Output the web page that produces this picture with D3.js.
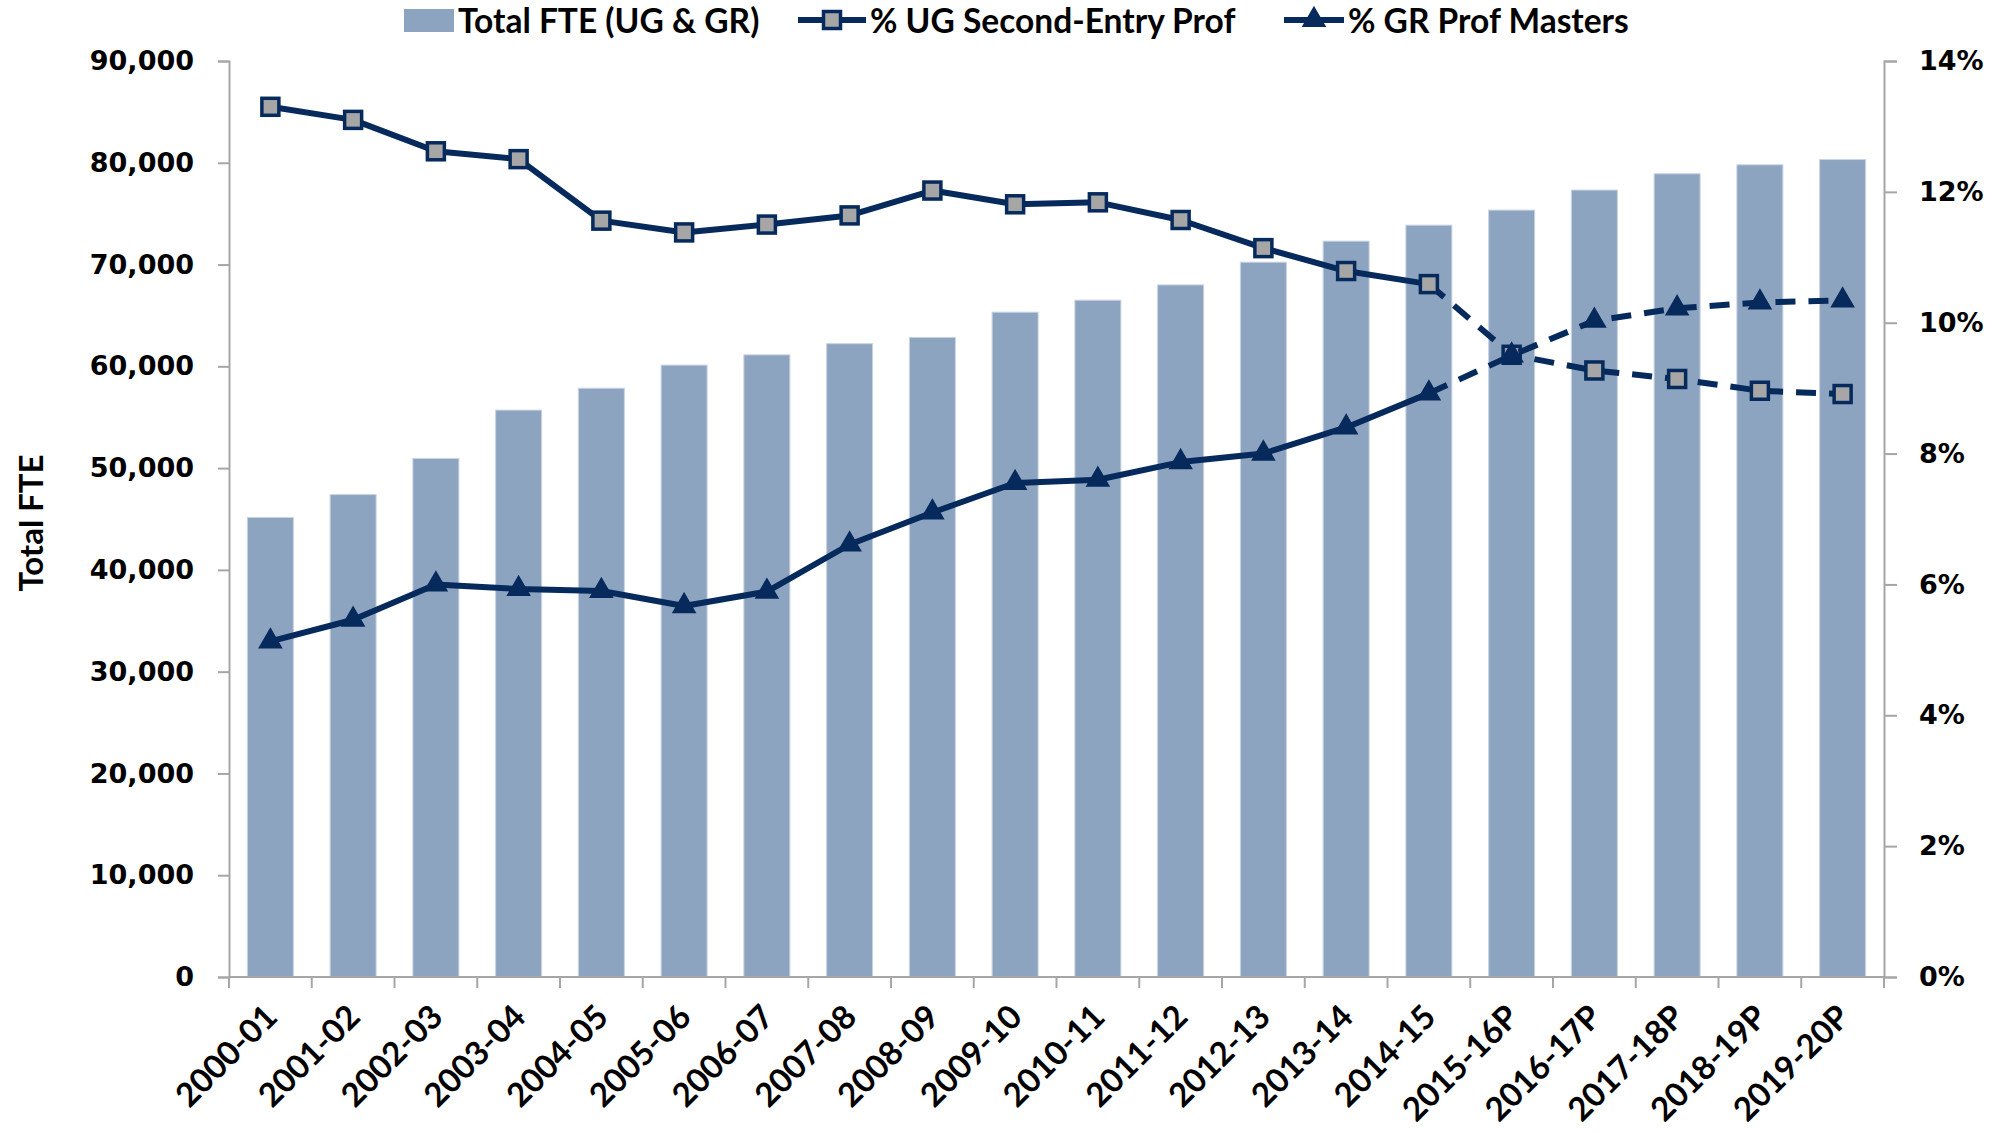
<!DOCTYPE html>
<html>
<head>
<meta charset="utf-8">
<script src="https://cdn.jsdelivr.net/npm/d3@7"></script>
<style>
  html, body { margin: 0; padding: 0; background: #fff; }
  svg { display: block; }
</style>
</head>
<body>
<div id="chart"></div>
<script>
// ---- data ----
const categories = ["2000-01","2001-02","2002-03","2003-04","2004-05","2005-06","2006-07","2007-08","2008-09","2009-10","2010-11","2011-12","2012-13","2013-14","2014-15","2015-16P","2016-17P","2017-18P","2018-19P","2019-20P"];
const totalFTE = [45150, 47400, 50950, 55700, 57850, 60120, 61130, 62230, 62840, 65320, 66500, 68000, 70230, 72300, 73870, 75350, 77320, 78920, 79800, 80320];
const ugSecondEntryPct = [13.30, 13.10, 12.62, 12.50, 11.56, 11.38, 11.50, 11.64, 12.02, 11.81, 11.84, 11.57, 11.14, 10.79, 10.59, 9.51, 9.27, 9.14, 8.96, 8.91];
const grProfMastersPct = [5.13, 5.46, 6.00, 5.93, 5.90, 5.67, 5.89, 6.61, 7.10, 7.55, 7.60, 7.87, 8.00, 8.40, 8.92, 9.50, 10.03, 10.22, 10.31, 10.34];
const leftTicks = [0, 10000, 20000, 30000, 40000, 50000, 60000, 70000, 80000, 90000];
const rightTicks = [0, 2, 4, 6, 8, 10, 12, 14];
const seriesNames = ["Total FTE (UG & GR)", "% UG Second-Entry Prof", "% GR Prof Masters"];
const yTitle = "Total FTE";
const firstProjectedIndex = 15; // "P" years are projections (dashed)

// ---- layout ----
const W = 1994, H = 1133;
const plot = { left: 229, right: 1884, top: 61, bottom: 977 };
const navy = "#072A5C";
const barFill = "#8DA4C1";
const axisGrey = "#A6A6A6";
const labelFont = "Lato, 'Open Sans', sans-serif";
const tickFont = "'DejaVu Sans', Verdana, sans-serif";

const svg = d3.select("#chart").append("svg").attr("width", W).attr("height", H);

const x = d3.scaleBand().domain(categories).range([plot.left, plot.right])
  .paddingInner(0.444).paddingOuter(0.222);
const yL = d3.scaleLinear().domain([0, 90000]).range([plot.bottom, plot.top]);
const yR = d3.scaleLinear().domain([0, 14]).range([plot.bottom, plot.top]);
const cx = c => x(c) + x.bandwidth() / 2;

// bars
svg.append("g").selectAll("rect").data(categories).join("rect")
  .attr("x", c => x(c))
  .attr("width", x.bandwidth())
  .attr("y", (c, i) => yL(totalFTE[i]))
  .attr("height", (c, i) => plot.bottom - yL(totalFTE[i]))
  .attr("fill", barFill)
  .attr("stroke", "#C9D4E3").attr("stroke-width", 1);

// left axis
const gL = svg.append("g").attr("transform", `translate(${plot.left},0)`)
  .call(d3.axisLeft(yL).tickValues(leftTicks).tickFormat(d3.format(",")).tickSize(11).tickPadding(24));
// right axis
const gR = svg.append("g").attr("transform", `translate(${plot.right},0)`)
  .call(d3.axisRight(yR).tickValues(rightTicks).tickFormat(d => d + "%").tickSize(13).tickPadding(22));
[gL, gR].forEach(g => {
  g.select(".domain").attr("stroke", axisGrey).attr("stroke-width", 2);
  g.selectAll(".tick line").attr("stroke", axisGrey).attr("stroke-width", 2);
  g.selectAll(".tick text").attr("font-family", tickFont).attr("font-weight", "bold")
    .attr("font-size", 27).attr("fill", "#000");
});

// bottom axis: line + ticks at band boundaries
const gB = svg.append("g");
gB.append("line").attr("x1", plot.left).attr("x2", plot.right)
  .attr("y1", plot.bottom).attr("y2", plot.bottom)
  .attr("stroke", axisGrey).attr("stroke-width", 2);
const boundaries = categories.map(c => cx(c) - x.step() / 2).concat([cx(categories[categories.length - 1]) + x.step() / 2]);
gB.selectAll("line.tk").data(boundaries).join("line").attr("class", "tk")
  .attr("x1", d => d).attr("x2", d => d)
  .attr("y1", plot.bottom).attr("y2", plot.bottom + 11)
  .attr("stroke", axisGrey).attr("stroke-width", 2);
gB.selectAll("text").data(categories).join("text")
  .attr("transform", c => `translate(${cx(c) + 9},${plot.bottom + 42}) rotate(-45)`)
  .attr("text-anchor", "end")
  .attr("font-family", labelFont).attr("font-weight", "bold").attr("font-size", 33)
  .attr("fill", "#000")
  .text(c => c);

// y title
svg.append("text")
  .attr("transform", `translate(43,523) rotate(-90)`)
  .attr("text-anchor", "middle")
  .attr("font-family", labelFont).attr("font-weight", "bold").attr("font-size", 33)
  .text(yTitle);

// lines
function drawSeries(values, marker) {
  const pts = categories.map((c, i) => [cx(c), yR(values[i])]);
  const line = d3.line();
  const g = svg.append("g");
  g.append("path").attr("d", line(pts.slice(0, firstProjectedIndex)))
    .attr("fill", "none").attr("stroke", navy).attr("stroke-width", 6).attr("stroke-linejoin", "round");
  g.append("path").attr("d", line(pts.slice(firstProjectedIndex - 1)))
    .attr("fill", "none").attr("stroke", navy).attr("stroke-width", 6)
    .attr("stroke-dasharray", "20,13").attr("stroke-linejoin", "round");
  pts.forEach(p => marker(g, p[0], p[1]));
}
function squareMarker(g, px, py) {
  g.append("rect").attr("x", px - 8.5).attr("y", py - 8.5).attr("width", 17).attr("height", 17)
    .attr("fill", "#A6A6A6").attr("stroke", navy).attr("stroke-width", 3.5);
}
const tri = d3.symbol().type(d3.symbolTriangle).size(210);
function triMarker(g, px, py) {
  g.append("path").attr("d", tri()).attr("transform", `translate(${px},${py})`)
    .attr("fill", navy).attr("stroke", navy).attr("stroke-width", 1.5);
}
drawSeries(ugSecondEntryPct, squareMarker);
drawSeries(grProfMastersPct, triMarker);

// legend
const lg = svg.append("g");
const legendMid = 20;
lg.append("rect").attr("x", 404).attr("y", legendMid - 11).attr("width", 50).attr("height", 23).attr("fill", barFill);
const legendText = (tx, s) => lg.append("text").attr("x", tx).attr("y", 33)
  .attr("font-family", labelFont).attr("font-weight", "bold").attr("font-size", 33.5).text(s);
legendText(458, seriesNames[0]);
lg.append("line").attr("x1", 798).attr("x2", 866).attr("y1", legendMid).attr("y2", legendMid).attr("stroke", navy).attr("stroke-width", 6);
squareMarker(lg, 832, legendMid);
legendText(870, seriesNames[1]);
lg.append("line").attr("x1", 1284).attr("x2", 1344).attr("y1", legendMid).attr("y2", legendMid).attr("stroke", navy).attr("stroke-width", 6);
triMarker(lg, 1314, legendMid);
legendText(1348, seriesNames[2]);
</script>
</body>
</html>
